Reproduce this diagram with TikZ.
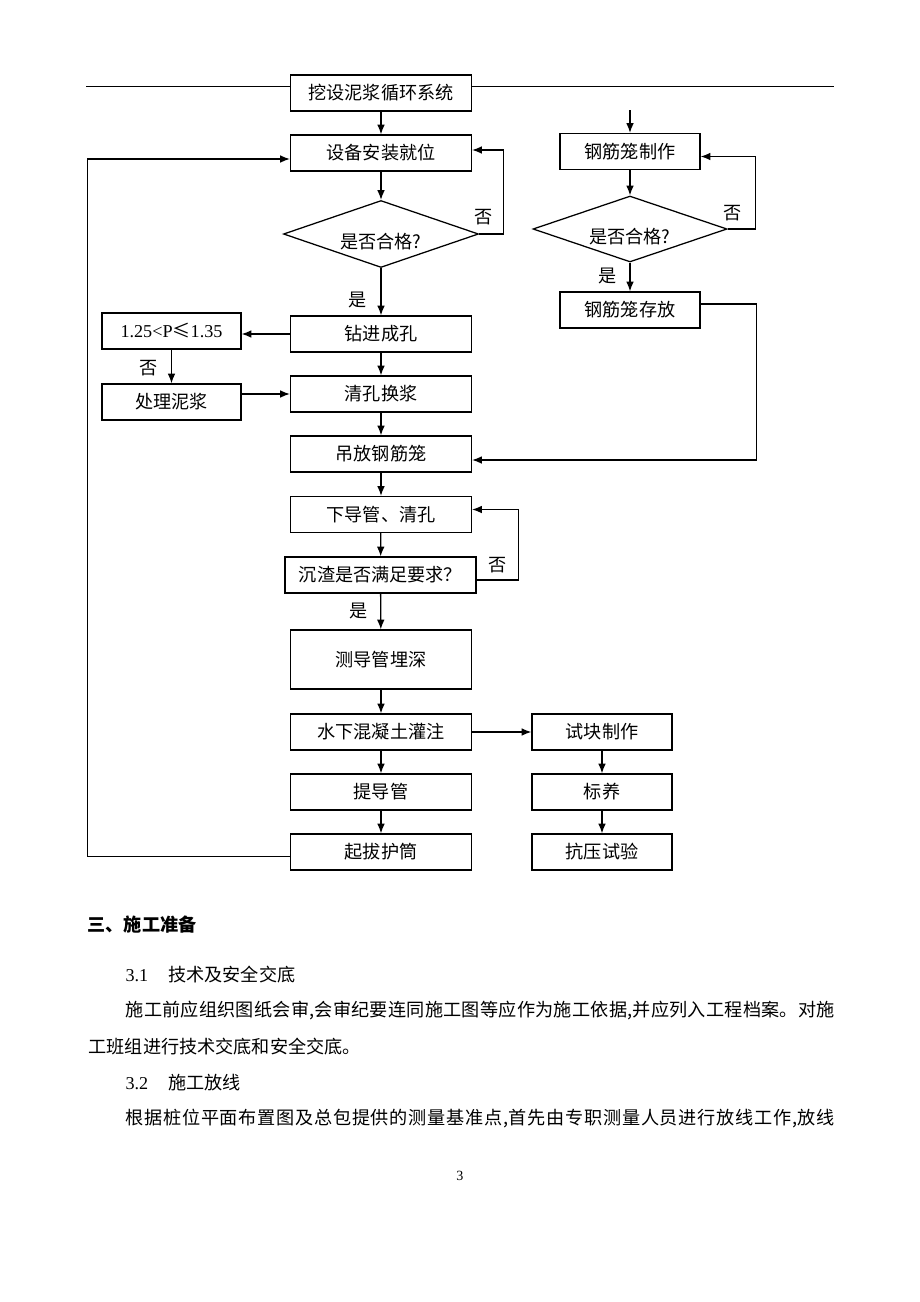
\documentclass[tikz,border=0pt]{standalone}
\usepackage{fontspec}
\setmainfont{Liberation Serif}
\newfontfamily\cjk{Noto Sans CJK SC}
\usetikzlibrary{shapes.geometric,arrows.meta}
\def\u{0.025cm}
\def\boxfont{\cjk\fontsize{12.9pt}{15pt}\selectfont}
% spread one line of text over a given width
\def\spreadline#1#2{\hbox to #1{\spreadfirst#2\relax}}
\def\spreadfirst#1{#1\spreadrest}
\def\spreadrest#1{\ifx#1\relax\else\hfill#1\expandafter\spreadrest\fi}

\begin{document}
\begin{tikzpicture}[x=0.025cm,y=-0.025cm,>={Latex[length=7pt,width=5.5pt]},line width=0.9pt,
	box/.style={draw,minimum width={181*\u},minimum height={36*\u},inner sep=0pt,font=\boxfont},
	sbox/.style={box,minimum width={140*\u}},
	chk/.style={draw,shape=diamond,minimum width={195*\u},minimum height={67*\u},inner sep=0pt},
	txt/.style={inner sep=0pt,font=\boxfont}]
\def\pfeil#1#2{
	\draw[->] #1 -- #2;
}
\fill[white] (0,0) rectangle (920,1302);
\useasboundingbox (0,0) rectangle (920,1302);
% header line
\coordinate (hl) at (86,86);
\coordinate (hr) at (834,86);
% main column
\node[box] (dig) at (381,93) {挖设泥浆循环系统};
\node[box] (setup) at (381,153) {设备安装就位};
\node[chk] (chk1) at (381,234) {};
\node[txt] (chk1t) at (381,242) {是否合格?};
\node[box] (drill) at (381,334) {钻进成孔};
\node[box] (clean) at (381,394) {清孔换浆};
\node[box] (hoist) at (381,454) {吊放钢筋笼};
\node[box] (pipe) at (381,514.5) {下导管、清孔};
\node[box,minimum width={191*\u}] (sed) at (380.5,575) {沉渣是否满足要求？};
\node[box,minimum height={59*\u}] (depth) at (381,659.5) {测导管埋深};
\node[box] (pour) at (381,732) {水下混凝土灌注};
\node[box] (lift) at (381,792) {提导管};
\node[box] (pull) at (381,852) {起拔护筒};
% left column
\node[sbox,minimum width={139*\u}] (dens) at (171.5,331) {\rmfamily 1.25<P{\cjk ≤}1.35};
\node[sbox,minimum width={139*\u}] (treat) at (171.5,402) {处理泥浆};
% right column
\coordinate (cin) at (630,110);
\node[sbox] (cage) at (630,151.5) {钢筋笼制作};
\node[chk,minimum width={194*\u},minimum height={66*\u}] (chk2) at (630,229) {};
\node[txt] (chk2t) at (630,237) {是否合格?};
\node[sbox] (store) at (630,310) {钢筋笼存放};
% test column
\node[sbox] (test) at (602,732) {试块制作};
\node[sbox] (cure) at (602,792) {标养};
\node[sbox] (press) at (602,852) {抗压试验};
% labels
\node[txt] (n1) at (484,217) {否};
\node[txt] (y1) at (358,300) {是};
\node[txt] (n2) at (733,213) {否};
\node[txt] (y2) at (608,276) {是};
\node[txt] (n3) at (149,368) {否};
\node[txt] (n4) at (498,565) {否};
\node[txt] (y3) at (359,611) {是};
\coordinate (lft) at (87.5,856.5);
% connectors
\draw[line width=0.7pt] (hl) -- (hl -| dig.west);
\draw[line width=0.7pt] (hr -| dig.east) -- (hr);
\pfeil{(dig)}{(setup)}
\pfeil{(setup)}{(chk1)}
\pfeil{(chk1)}{(drill)}
\pfeil{(drill)}{(clean)}
\pfeil{(clean)}{(hoist)}
\pfeil{(hoist)}{(pipe)}
\pfeil{(pipe)}{(sed)}
\pfeil{(sed)}{(depth)}
\pfeil{(depth)}{(pour)}
\pfeil{(pour)}{(lift)}
\pfeil{(lift)}{(pull)}
\pfeil{(drill.west)}{(drill.west -| dens.east)}
\pfeil{(dens)}{(treat)}
\pfeil{(treat.east |- clean.west)}{(clean.west)}
\pfeil{(pour)}{(test)}
\pfeil{(test)}{(cure)}
\pfeil{(cure)}{(press)}
\pfeil{(cin)}{(cage)}
\pfeil{(cage)}{(chk2)}
\pfeil{(chk2)}{(store)}
\draw[->] (chk1.east) -- ++(24,0) |- ([yshift=3*\u]setup.east);
\draw[->] (chk2.east) -- ++(28,0) |- ([yshift=-5*\u]cage.east);
\draw[->] ([yshift=6*\u]store.east) -- ++(56,0) |- ([yshift=-6*\u]hoist.east);
\draw[->] ([yshift=-5*\u]sed.east) -- ++(42,0) |- ([yshift=5*\u]pipe.east);
\draw[->] ([yshift=-4.5*\u]pull.west) -- (lft) |- ([yshift=-6*\u]setup.west);
% text below
\node[txt,anchor=west,font={\boxfont\bfseries}] (sec) at (87,925) {三、施工准备};
\node[txt,anchor=west] (s31) at (125,975) {{\rmfamily 3.1}\hspace{0.5cm}技术及安全交底};
\node[txt,anchor=west] (p1) at (125,1011)
	{\spreadline{17.725cm}{施工前应组织图纸会审,会审纪要连同施工图等应作为施工依据,并应列入工程档案。对施}};
\node[txt,anchor=west] (p2) at (88,1047) {工班组进行技术交底和安全交底。};
\node[txt,anchor=west] (s32) at (125,1083) {{\rmfamily 3.2}\hspace{0.5cm}施工放线};
\node[txt,anchor=west] (p4) at (125,1119)
	{\spreadline{17.725cm}{根据桩位平面布置图及总包提供的测量基准点,首先由专职测量人员进行放线工作,放线}};
\node[inner sep=0pt,font=\rmfamily\fontsize{10pt}{12pt}\selectfont] (pg) at (460,1176) {3};
\end{tikzpicture}
\end{document}
